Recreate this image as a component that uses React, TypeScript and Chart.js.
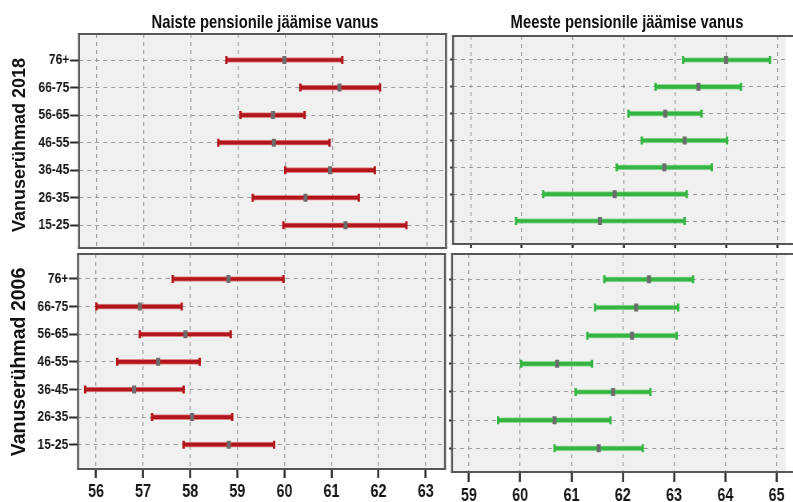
import React, { useEffect, useRef } from 'react';
import { Chart, registerables } from 'chart.js';

Chart.register(...registerables);

// ---------- data ----------
const ageGroups = ['15-25', '26-35', '36-45', '46-55', '56-65', '66-75', '76+'];
const womenTicks = [56, 57, 58, 59, 60, 61, 62, 63];
const menTicks = [59, 60, 61, 62, 63, 64, 65];

const columnTitles = ['Naiste pensionile jäämise vanus', 'Meeste pensionile jäämise vanus'];
const rowTitles = ['Vanuserühmad 2018', 'Vanuserühmad 2006'];

// Women, 2018
const women2018Mean = [61.28, 60.43, 60.95, 59.76, 59.74, 61.15, 59.98];
const women2018Low = [59.96, 59.31, 60.0, 58.58, 59.05, 60.32, 58.75];
const women2018High = [62.57, 61.56, 61.9, 60.94, 60.41, 62.01, 61.21];
// Men, 2018
const men2018Mean = [61.53, 61.82, 62.79, 63.19, 62.81, 63.46, 64.0];
const men2018Low = [59.89, 60.42, 61.86, 62.35, 62.09, 62.62, 63.16];
const men2018High = [63.19, 63.23, 63.72, 64.02, 63.52, 64.29, 64.86];
// Women, 2006
const women2006Mean = [58.82, 58.04, 56.81, 57.32, 57.9, 56.93, 58.81];
const women2006Low = [57.86, 57.19, 55.77, 56.45, 56.93, 56.01, 57.63];
const women2006High = [59.78, 58.89, 57.86, 58.2, 58.86, 57.82, 59.98];
// Men, 2006
const men2006Mean = [61.53, 60.67, 61.81, 60.72, 62.18, 62.26, 62.51];
const men2006Low = [60.67, 59.57, 61.08, 60.02, 61.31, 61.46, 61.64];
const men2006High = [62.39, 61.76, 62.54, 61.4, 63.05, 63.08, 63.37];

// ---------- styling ----------
const W = 793;
const H = 502;
const CW = 991; // canvas drawn wider, then squeezed horizontally (narrow-font look)
const S = W / CW;
const FONT = "'Liberation Sans', Arial, sans-serif";
const RED = '#b2161d';
const RED_HALO = 'rgba(222, 96, 96, 0.75)';
const GREEN = '#34b543';
const GREEN_HALO = 'rgba(120, 214, 122, 0.75)';
const MEAN_COLOR = '#6c6c6c';

const boxPlugin = {
  id: 'panelBox',
  beforeDraw(chart: any) {
    const { ctx, chartArea: a } = chart;
    ctx.save();
    ctx.fillStyle = '#f0f0f0';
    ctx.fillRect(a.left, a.top, a.right - a.left, a.bottom - a.top);
    ctx.restore();
  },
  afterDraw(chart: any, _args: any, opts: any) {
    const { ctx, chartArea: a } = chart;
    ctx.save();
    ctx.strokeStyle = '#575757';
    // horizontal sides
    ctx.lineWidth = 2;
    ctx.beginPath();
    const rightX = opts.right ? a.right + 1.2 : CW + 5;
    ctx.moveTo(a.left - 1.2, a.top);
    ctx.lineTo(rightX, a.top);
    ctx.moveTo(a.left - 1.2, a.bottom);
    ctx.lineTo(rightX, a.bottom);
    ctx.stroke();
    // vertical sides (squeezed by S on screen)
    ctx.lineWidth = 2.5;
    ctx.beginPath();
    ctx.moveTo(a.left, a.top - 1);
    ctx.lineTo(a.left, a.bottom + 1);
    if (opts.right) {
      ctx.moveTo(a.right, a.top - 1);
      ctx.lineTo(a.right, a.bottom + 1);
    }
    ctx.stroke();
    ctx.restore();
  },
};

type Area = { l: number; t: number; r: number; b: number };

type PanelProps = {
  low: number[];
  mean: number[];
  high: number[];
  color: string;
  halo: string;
  xTicks: number[];
  xMin: number;
  xMax: number;
  yMin: number;
  yMax: number;
  area: Area;
  showYLabels: boolean;
  yTickLen: number;
  showXLabels: boolean;
  xTickLen: number;
  rightBorder: boolean;
};

function Panel(p: PanelProps) {
  const ref = useRef<HTMLCanvasElement | null>(null);
  useEffect(() => {
    if (!ref.current) return;
    const yW = p.showYLabels ? 85 : 8;
    const left = p.area.l / S;
    const right = Math.min(CW, p.area.r / S);
    const xH = H - p.area.b;
    const barData = ageGroups.map((_, i) => ({ y: i, x: [p.low[i], p.high[i]] }));
    const capData = ageGroups
      .map((_, i) => ({ x: p.low[i], y: i }))
      .concat(ageGroups.map((_, i) => ({ x: p.high[i], y: i })));
    const meanData = ageGroups.map((_, i) => ({ x: p.mean[i], y: i }));
    const tickFontY = { family: FONT, size: 15, weight: 'bold' as const };
    const tickFontX = { family: FONT, size: 18, weight: 'bold' as const };

    const chart = new Chart(ref.current, {
      type: 'bar',
      data: {
        datasets: [
          {
            type: 'bar',
            data: barData as any,
            backgroundColor: p.color,
            borderColor: p.halo,
            borderWidth: 1,
            borderSkipped: false,
            barThickness: 5,
            order: 3,
          } as any,
          {
            type: 'scatter',
            data: capData,
            pointStyle: 'line',
            rotation: 90,
            radius: 4,
            borderWidth: 3,
            borderColor: p.color,
            order: 2,
          } as any,
          {
            type: 'scatter',
            data: meanData,
            pointStyle: 'line',
            rotation: 90,
            radius: 4,
            borderWidth: 5,
            borderColor: MEAN_COLOR,
            order: 1,
          } as any,
        ],
      },
      options: {
        indexAxis: 'y',
        animation: false,
        responsive: false,
        devicePixelRatio: 1,
        events: [],
        layout: {
          padding: {
            left: left - yW,
            top: p.area.t,
            right: CW - right,
            bottom: 0,
          },
        },
        plugins: {
          legend: { display: false },
          tooltip: { enabled: false },
          panelBox: { right: p.rightBorder },
        } as any,
        scales: {
          x: {
            type: 'linear',
            position: 'bottom',
            min: p.xMin,
            max: p.xMax,
            afterBuildTicks: (s: any) => {
              s.ticks = p.xTicks.map((v) => ({ value: v }));
            },
            afterFit: (s: any) => {
              s.height = xH;
              s.paddingLeft = 0;
              s.paddingRight = 0;
            },
            ticks: {
              display: p.showXLabels,
              font: tickFontX,
              color: '#151515',
              padding: 3,
              maxRotation: 0,
              autoSkip: false,
            },
            grid: {
              color: '#9c9c9c',
              lineWidth: 1.25,
              drawTicks: p.xTickLen > 0,
              tickLength: p.xTickLen,
              tickColor: '#2a2a2a',
              tickWidth: 2.5,
            },
            border: { display: false, dash: [4, 4] },
          },
          y: {
            type: 'linear',
            min: p.yMin,
            max: p.yMax,
            offset: false,
            afterBuildTicks: (s: any) => {
              s.ticks = ageGroups.map((_, i) => ({ value: i }));
            },
            afterFit: (s: any) => {
              s.width = yW;
              s.paddingTop = 0;
              s.paddingBottom = 0;
            },
            ticks: {
              display: p.showYLabels,
              font: tickFontY,
              color: '#151515',
              padding: 1,
              autoSkip: false,
              callback: (v: any) => ageGroups[v as number] ?? '',
            },
            grid: {
              offset: false,
              color: '#9c9c9c',
              lineWidth: 1,
              drawTicks: true,
              tickLength: p.yTickLen / S,
              tickColor: '#2a2a2a',
              tickWidth: 2,
            },
            border: { display: false, dash: [5, 5] },
          },
        },
      } as any,
      plugins: [boxPlugin],
    });
    return () => chart.destroy();
  }, []);
  return (
    <canvas
      ref={ref}
      width={CW}
      height={H}
      style={{
        position: 'absolute',
        left: 0,
        top: 0,
        width: CW,
        height: H,
        display: 'block',
        transform: `scaleX(${S})`,
        transformOrigin: '0 0',
      }}
    />
  );
}

export default function App() {
  const titleStyle = (cx: number): React.CSSProperties => ({
    position: 'absolute',
    left: cx,
    top: 11,
    lineHeight: '22px',
    transform: 'translateX(-50%) scaleX(0.8)',
    fontFamily: FONT,
    fontWeight: 'bold',
    fontSize: 18.5,
    color: '#111',
    whiteSpace: 'nowrap',
  });
  const rowStyle = (cy: number, size: number): React.CSSProperties => ({
    position: 'absolute',
    left: 19,
    top: cy,
    transform: 'translate(-50%, -50%) rotate(-90deg)',
    fontFamily: FONT,
    fontWeight: 'bold',
    fontSize: size,
    lineHeight: 1,
    color: '#111',
    whiteSpace: 'nowrap',
  });
  return (
    <div style={{ position: 'absolute', left: 0, top: 0, width: W, height: H, background: '#fff', overflow: 'hidden' }}>
      <Panel
        low={women2018Low}
        mean={women2018Mean}
        high={women2018High}
        color={RED}
        halo={RED_HALO}
        xTicks={womenTicks}
        xMin={55.625}
        xMax={63.41}
        yMin={-0.824}
        yMax={6.944}
        area={{ l: 79, t: 34, r: 446, b: 248 }}
        showYLabels={true}
        yTickLen={9}
        showXLabels={false}
        xTickLen={0}
        rightBorder={true}
      />
      <Panel
        low={men2018Low}
        mean={men2018Mean}
        high={men2018High}
        color={GREEN}
        halo={GREEN_HALO}
        xTicks={menTicks}
        xMin={58.655}
        xMax={65.17}
        yMin={-0.857}
        yMax={6.894}
        area={{ l: 453, t: 36, r: 793, b: 244 }}
        showYLabels={false}
        yTickLen={3}
        showXLabels={false}
        xTickLen={4}
        rightBorder={false}
      />
      <Panel
        low={women2006Low}
        mean={women2006Mean}
        high={women2006High}
        color={RED}
        halo={RED_HALO}
        xTicks={womenTicks}
        xMin={55.618}
        xMax={63.41}
        yMin={-0.88}
        yMax={6.905}
        area={{ l: 78, t: 254, r: 445, b: 469 }}
        showYLabels={true}
        yTickLen={9}
        showXLabels={true}
        xTickLen={9}
        rightBorder={true}
      />
      <Panel
        low={men2006Low}
        mean={men2006Mean}
        high={men2006High}
        color={GREEN}
        halo={GREEN_HALO}
        xTicks={menTicks}
        xMin={58.67}
        xMax={65.18}
        yMin={-0.841}
        yMax={6.898}
        area={{ l: 452, t: 254, r: 793, b: 472 }}
        showYLabels={false}
        yTickLen={3}
        showXLabels={true}
        xTickLen={10}
        rightBorder={false}
      />
      <div style={titleStyle(265)}>{columnTitles[0]}</div>
      <div style={titleStyle(627)}>{columnTitles[1]}</div>
      <div style={rowStyle(145, 18)}>{rowTitles[0]}</div>
      <div style={rowStyle(362, 19.5)}>{rowTitles[1]}</div>
    </div>
  );
}
